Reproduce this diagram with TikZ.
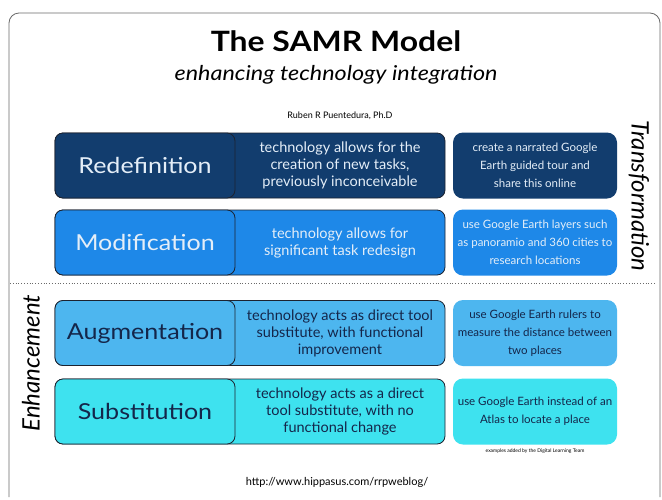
\documentclass[tikz,border=0pt]{standalone}
\usepackage{fontspec}
\setmainfont{Lato}
\newfontfamily\wideSans[FakeStretch=1.14]{Lato}
\usetikzlibrary{positioning}

\definecolor{frameGray}{HTML}{6A6A6A}
\definecolor{rowLine}{HTML}{1C2330}
\definecolor{redefBlue}{HTML}{123D6E}
\definecolor{modifBlue}{HTML}{1E88E8}
\definecolor{augmBlue}{HTML}{4DB6EF}
\definecolor{substCyan}{HTML}{3EE2EF}
\definecolor{lightText}{HTML}{E4EEF8}
\definecolor{darkText}{HTML}{14264A}

\begin{document}
\begin{tikzpicture}[x=1pt, y=-1pt,
	rowStyle/.style={draw=rowLine, line width=0.8pt, rounded corners=8pt, minimum width=390pt, minimum height=65pt, inner sep=0pt},
	labelStyle/.style={draw=rowLine, line width=0.8pt, rounded corners=8pt, minimum width=180pt, minimum height=65pt, inner sep=0pt, font=\wideSans\fontsize{22}{25}\selectfont},
	descStyle/.style={align=center, font=\fontsize{14.5}{17}\selectfont},
	exampleStyle/.style={rounded corners=10pt, minimum width=164pt, minimum height=66pt, inner sep=0pt, align=center, font=\fontsize{11.5}{18}\selectfont},
	sideStyle/.style={font=\itshape\fontsize{24}{26}\selectfont}]
			\useasboundingbox (0,0) rectangle (662,499);
			\fill[white] (0,0) rectangle (662,499);

			% Frame
			\draw[frameGray, line width=0.8pt, rounded corners=10pt] (9,497) -- (9,13) -- (660,13) -- (660,497);

			% Heading
			\node[font=\wideSans\bfseries\fontsize{28}{30}\selectfont] (title) at (336,41) {The SAMR Model};
			\node[font=\wideSans\itshape\fontsize{20.5}{22}\selectfont, below=7pt of title] (subtitle) {enhancing technology integration};
			\node[font=\fontsize{9}{10}\selectfont] (author) at (340,116) {Ruben R Puentedura, Ph.D};

			% Transformation
			\node[rowStyle, fill=redefBlue] (redefRow) at (250,165.5) {};
			\node[labelStyle, fill=redefBlue, text=lightText] (redef) at (145,165.5) {Redefinition};
			\node[descStyle, text=lightText] (redefDesc) at (340,165.5) {technology allows for the\\creation of new tasks,\\previously inconceivable};
			\node[exampleStyle, fill=redefBlue, text=lightText] (redefEx) at (535,165.5) {create a narrated Google\\Earth guided tour and\\share this online};

			\node[rowStyle, fill=modifBlue] (modifRow) at (250,242.5) {};
			\node[labelStyle, fill=modifBlue, text=lightText] (modif) at (145,242.5) {Modification};
			\node[descStyle, text=lightText] (modifDesc) at (340,242.5) {technology allows for\\significant task redesign};
			\node[exampleStyle, fill=modifBlue, text=lightText] (modifEx) at (535,242.5) {use Google Earth layers such\\as panoramio and 360 cities to\\research locations};

			\node[sideStyle, rotate=-90] (transform) at (639,196) {Transformation};

			% Separator
			\coordinate (sepLeft) at (10,283);
			\coordinate (sepRight) at (656,283);
			\draw[frameGray, dotted, line width=0.8pt] (sepLeft) -- (sepRight);

			% Enhancement
			\node[rowStyle, fill=augmBlue] (augmRow) at (250,333) {};
			\node[labelStyle, fill=augmBlue, text=darkText] (augm) at (145,333) {Augmentation};
			\node[descStyle, text=darkText] (augmDesc) at (340,333) {technology acts as direct tool\\substitute, with functional\\improvement};
			\node[exampleStyle, fill=augmBlue, text=darkText] (augmEx) at (535,333) {use Google Earth rulers to\\measure the distance between\\two places};

			\node[rowStyle, fill=substCyan] (substRow) at (250,411.5) {};
			\node[labelStyle, fill=substCyan, text=darkText] (subst) at (145,411.5) {Substitution};
			\node[descStyle, text=darkText] (substDesc) at (340,411.5) {technology acts as a direct\\tool substitute, with no\\functional change};
			\node[exampleStyle, fill=substCyan, text=darkText] (substEx) at (535,411.5) {use Google Earth instead of an\\Atlas to locate a place};

			\node[sideStyle, rotate=90] (enhance) at (31,363) {Enhancement};

			% Footer
			\node[font=\fontsize{5}{6}\selectfont, below=0.5pt of substEx] (note) {examples added by the Digital Learning Team};
			\node[font=\fontsize{11}{12}\selectfont] (url) at (337,482) {http://www.hippasus.com/rrpweblog/};

		\end{tikzpicture}
\end{document}
